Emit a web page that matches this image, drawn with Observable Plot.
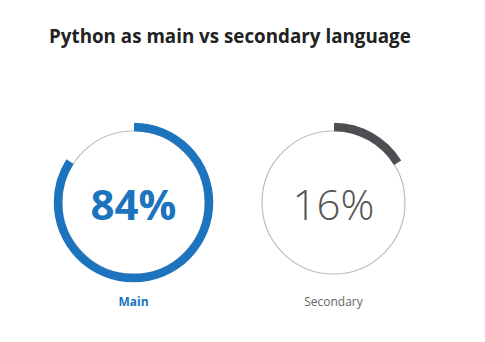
<!DOCTYPE html>
<html><head><meta charset="utf-8">
<script src="https://cdn.jsdelivr.net/npm/d3@7"></script>
<script src="https://cdn.jsdelivr.net/npm/@observablehq/plot@0.6"></script>
<style>
body{margin:0;background:#fff;width:485px;height:342px;overflow:hidden;font-family:"Open Sans",sans-serif}
#title{position:absolute;left:49px;top:27px;font-size:18.8px;line-height:18px;font-weight:700;color:#222;margin:0;white-space:nowrap}
#chart{position:absolute;left:0;top:60px}
</style></head><body>
<div id="title">Python as main vs secondary language</div>
<div id="chart"></div>
<script>
const categories = ["Main", "Secondary"];
const shares = [84, 16];
const valueLabels = ["84%", "16%"];
const arcColors = ["#1b74bd", "#4d4d52"];
const labelColors = ["#1b74bd", "#666666"];

const R = 75.5;
const C = 2 * Math.PI * R;

const rows = categories.map((c, i) => ({cat: c, share: shares[i], label: valueLabels[i]}));

const arcMark = (i) => Plot.dot([rows[i]], {
  x: "cat", y: () => "ring", r: R, fill: "none",
  stroke: arcColors[i], strokeWidth: 8.5,
  strokeDasharray: `${C * rows[i].share / 100} ${C - C * rows[i].share / 100}`,
  strokeDashoffset: C / 4
});

const chart = Plot.plot({
  width: 485, height: 282,
  margin: 0,
  x: {type: "point", domain: categories, range: [133, 333], padding: 0, axis: null},
  y: {type: "point", domain: ["ring", "label"], range: [142, 242.5], padding: 0, axis: null},
  marks: [
    Plot.dot(rows, {x: "cat", y: () => "ring", r: 71.5, fill: "none", stroke: "#bdbdbd", strokeWidth: 1.2}),
    arcMark(0),
    arcMark(1),
    Plot.text([rows[0]], {x: "cat", y: () => "ring", text: "label", fill: labelColors[0], fontSize: 42, fontWeight: 700, fontFamily: "Open Sans", lineAnchor: "middle", dy: 4}),
    Plot.text([rows[1]], {x: "cat", y: () => "ring", text: "label", fill: "#555555", fontSize: 42, fontWeight: 300, fontFamily: "Open Sans", lineAnchor: "middle", dy: 4}),
    Plot.text([rows[0]], {x: "cat", y: () => "label", text: "cat", fill: labelColors[0], fontSize: 12, fontWeight: 700, fontFamily: "Open Sans"}),
    Plot.text([rows[1]], {x: "cat", y: () => "label", text: "cat", fill: labelColors[1], fontSize: 12, fontWeight: 400, fontFamily: "Open Sans"})
  ]
});
document.getElementById("chart").appendChild(chart);
</script>
</body></html>
